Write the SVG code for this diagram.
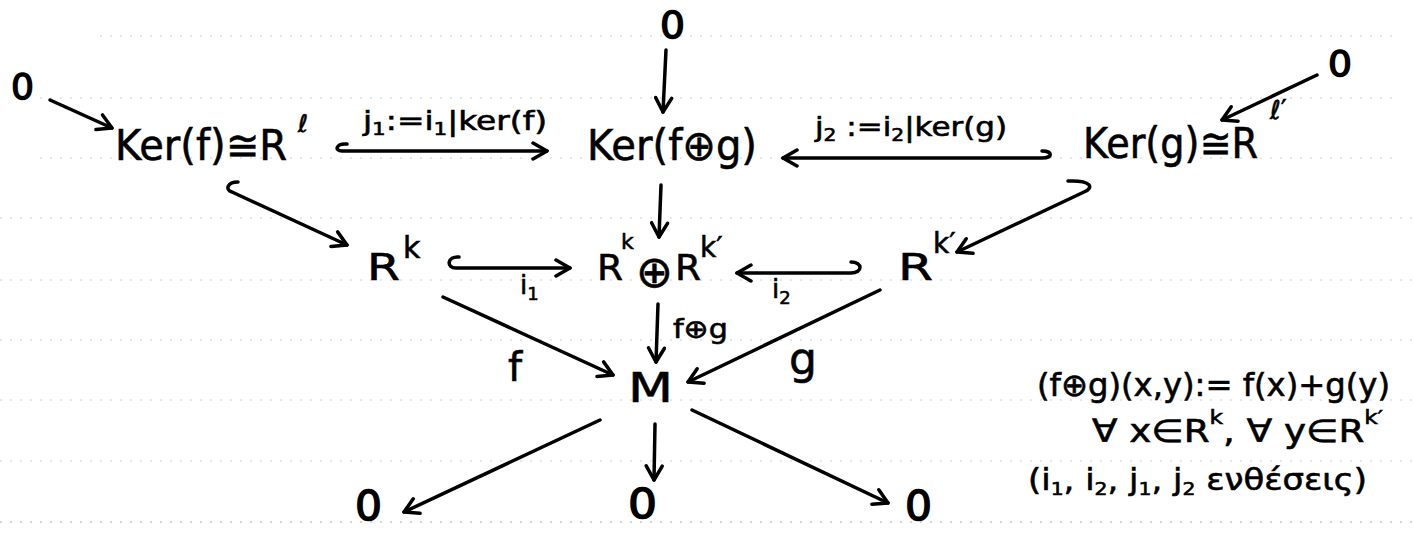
<svg xmlns="http://www.w3.org/2000/svg" width="1414" height="551" viewBox="0 0 1414 551">
<style>
  text { font-family: "DejaVu Sans", "Liberation Sans", sans-serif; fill: #000; stroke: #000; stroke-width: 0.6; }
  .big { font-size: 42px; }
  .zero { stroke-width: 1.4; }
  .lab { font-size: 26px; }
  .conn { fill: none; stroke: #000; stroke-width: 3.5; stroke-linecap: round; stroke-linejoin: round; }
  .rule { stroke: #d0d0d0; stroke-width: 1; stroke-dasharray: 2 8; }
</style>
<defs>
  <marker id="ah" viewBox="0 0 20 20" refX="17" refY="10" markerWidth="20" markerHeight="20" markerUnits="userSpaceOnUse" orient="auto">
    <path d="M3 2 L17 10 L3 18" fill="none" stroke="#000" stroke-width="3.5" stroke-linecap="round" stroke-linejoin="round"/>
  </marker>
</defs>
<rect width="1414" height="551" fill="#fff"/>
<g id="ruling">
  <line class="rule" x1="100" y1="36" x2="1400" y2="36"/>
  <line class="rule" x1="40" y1="98" x2="1400" y2="98"/>
  <line class="rule" x1="40" y1="158" x2="1400" y2="158"/>
  <line class="rule" x1="0" y1="218" x2="1414" y2="218"/>
  <line class="rule" x1="0" y1="280" x2="1414" y2="280"/>
  <line class="rule" x1="0" y1="340" x2="1414" y2="340"/>
  <line class="rule" x1="0" y1="400" x2="1414" y2="400"/>
  <line class="rule" x1="0" y1="461" x2="1414" y2="461"/>
  <line class="rule" x1="0" y1="522" x2="1414" y2="522" style="stroke:#a8a8a8"/>
</g>
<g id="connectors">
  <path class="conn" d="M50 100 L112 128" marker-end="url(#ah)"/>
  <path class="conn" d="M666 50 L663 112" marker-end="url(#ah)"/>
  <path class="conn" d="M1317 75 L1222 120" marker-end="url(#ah)"/>
  <path class="conn" d="M347 144 C336 143 334 151 342 151 L547 151" marker-end="url(#ah)"/>
  <path class="conn" d="M1042 151 C1053 151 1053 158 1042 158 L783 158" marker-end="url(#ah)"/>
  <path class="conn" d="M238 182 C227 182 225 190 232 192 L347 245" marker-end="url(#ah)"/>
  <path class="conn" d="M1068 181 C1092 180 1094 188 1084 192 L957 252" marker-end="url(#ah)"/>
  <path class="conn" d="M459 257 C447 256 446 268 456 268 L570 268" marker-end="url(#ah)"/>
  <path class="conn" d="M851 262 C863 262 863 273 851 273 L737 273" marker-end="url(#ah)"/>
  <path class="conn" d="M661 185 L659 237" marker-end="url(#ah)"/>
  <path class="conn" d="M443 297 L613 375" marker-end="url(#ah)"/>
  <path class="conn" d="M658 304 L656 362" marker-end="url(#ah)"/>
  <path class="conn" d="M880 290 L688 382" marker-end="url(#ah)"/>
  <path class="conn" d="M600 420 L404 512" marker-end="url(#ah)"/>
  <path class="conn" d="M655 424 L654 480" marker-end="url(#ah)"/>
  <path class="conn" d="M692 410 L888 503" marker-end="url(#ah)"/>
</g>
<g id="labels">
  <text class="lab" x="363" y="130" textLength="184" lengthAdjust="spacingAndGlyphs">j<tspan dy="5" font-size="17">1</tspan><tspan dy="-5">:=i</tspan><tspan dy="5" font-size="17">1</tspan><tspan dy="-5">|ker(f)</tspan></text>
  <text class="lab" x="815" y="136" textLength="192" lengthAdjust="spacingAndGlyphs">j<tspan dy="5" font-size="17">2</tspan><tspan dy="-5"> :=i</tspan><tspan dy="5" font-size="17">2</tspan><tspan dy="-5">|ker(g)</tspan></text>
  <text class="lab" x="520" y="294" font-size="28">i<tspan dy="6" font-size="18">1</tspan></text>
  <text class="lab" x="772" y="298" font-size="28">i<tspan dy="6" font-size="18">2</tspan></text>
  <text class="lab" x="673" y="338" font-size="28" textLength="55" lengthAdjust="spacingAndGlyphs">f⊕g</text>
  <text x="515" y="381" font-size="40" text-anchor="middle">f</text>
  <text x="803" y="374" font-size="44" text-anchor="middle">g</text>
</g>
<g id="zero-topleft"><text class="zero" x="11" y="99" font-size="36" textLength="23" lengthAdjust="spacingAndGlyphs">0</text></g>
<g id="zero-top"><text class="zero" x="660" y="38" font-size="37" textLength="25" lengthAdjust="spacingAndGlyphs">0</text></g>
<g id="zero-topright"><text class="zero" x="1328" y="76" font-size="35" textLength="24" lengthAdjust="spacingAndGlyphs">0</text></g>
<g id="ker-f">
  <text class="big" x="115" y="160" textLength="172" lengthAdjust="spacingAndGlyphs">Ker(f)≅R</text>
  <text x="298" y="132" font-size="24">ℓ</text>
</g>
<g id="ker-fg">
  <text class="big" x="587" y="160" textLength="170" lengthAdjust="spacingAndGlyphs">Ker(f⊕g)</text>
</g>
<g id="ker-g">
  <text class="big" x="1083" y="158" textLength="175" lengthAdjust="spacingAndGlyphs">Ker(g)≅R</text>
  <text x="1270" y="119" font-size="26">ℓ′</text>
</g>
<g id="Rk">
  <text x="367" y="280" font-size="38" textLength="33" lengthAdjust="spacingAndGlyphs">R</text>
  <text x="403" y="258" font-size="30">k</text>
</g>
<g id="Rk-sum">
  <text x="597" y="280" font-size="36" textLength="26" lengthAdjust="spacingAndGlyphs">R</text>
  <text x="621" y="249" font-size="22">k</text>
  <text x="636" y="287" font-size="44">⊕</text>
  <text x="675" y="280" font-size="36" textLength="26" lengthAdjust="spacingAndGlyphs">R</text>
  <text x="700" y="257" font-size="28">k′</text>
</g>
<g id="Rk-prime">
  <text x="898" y="280" font-size="38" textLength="35" lengthAdjust="spacingAndGlyphs">R</text>
  <text x="933" y="253" font-size="28">k′</text>
</g>
<g id="M">
  <text x="628" y="402" font-size="40" textLength="45" lengthAdjust="spacingAndGlyphs">M</text>
</g>
<g id="zero-bl"><text class="zero" x="355" y="520" font-size="40" textLength="27" lengthAdjust="spacingAndGlyphs">0</text></g>
<g id="zero-bc"><text class="zero" x="628" y="518" font-size="40" textLength="29" lengthAdjust="spacingAndGlyphs">0</text></g>
<g id="zero-br"><text class="zero" x="905" y="520" font-size="40" textLength="27" lengthAdjust="spacingAndGlyphs">0</text></g>
<g id="note">
  <text x="1037" y="396" font-size="32" textLength="353" lengthAdjust="spacingAndGlyphs">(f⊕g)(x,y):= f(x)+g(y)</text>
  <text x="1092" y="442" font-size="32" textLength="291" lengthAdjust="spacingAndGlyphs">∀ x∈R<tspan dy="-18" font-size="20">k</tspan><tspan dy="18">, ∀ y∈R</tspan><tspan dy="-18" font-size="20">k′</tspan></text>
  <text x="1028" y="490" font-size="30" textLength="339" lengthAdjust="spacingAndGlyphs">(i<tspan dy="5" font-size="18">1</tspan><tspan dy="-5">, i</tspan><tspan dy="5" font-size="18">2</tspan><tspan dy="-5">, j</tspan><tspan dy="5" font-size="18">1</tspan><tspan dy="-5">, j</tspan><tspan dy="5" font-size="18">2</tspan><tspan dy="-5"> ενθέσεις)</tspan></text>
</g>
</svg>
